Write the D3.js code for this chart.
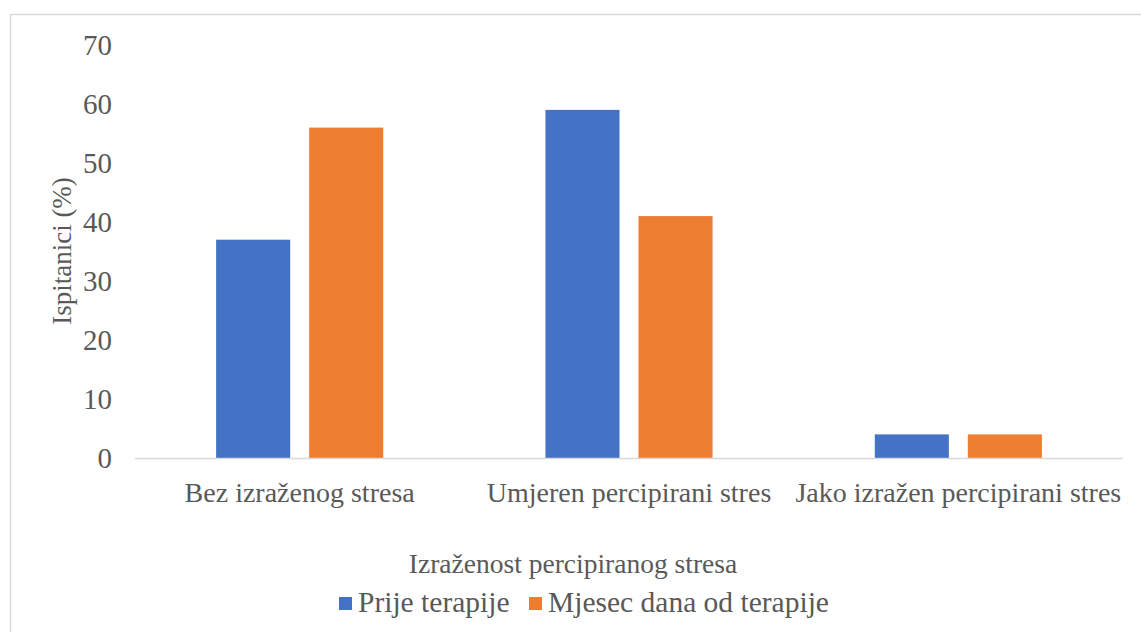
<!DOCTYPE html>
<html>
<head>
<meta charset="utf-8">
<script src="https://cdn.jsdelivr.net/npm/d3@7"></script>
<style>
  body { margin: 0; background: #fff; }
</style>
</head>
<body>
<svg id="chart" width="1141" height="632"></svg>
<script>
// data
var categories = ["Bez izraženog stresa", "Umjeren percipirani stres", "Jako izražen percipirani stres"];
var seriesNames = ["Prije terapije", "Mjesec dana od terapije"];
var prije = [37, 59, 4];
var mjesec = [56, 41, 4];
var yTicks = [0, 10, 20, 30, 40, 50, 60, 70];
var colors = ["#4472C4", "#ED7D31"];

var FONT = "'Liberation Serif', 'DejaVu Serif', serif";
var TXT = "#595959";

var svg = d3.select("#chart");

// outer chart border
svg.append("rect")
  .attr("x", 10.5).attr("y", 14.5)
  .attr("width", 1200).attr("height", 700)
  .attr("fill", "none")
  .attr("stroke", "#d9d9d9")
  .attr("stroke-width", 1.5);

var plotL = 135, plotR = 1123, plotT = 45, plotB = 458;

var x = d3.scaleBand().domain(categories).range([plotL, plotR]).paddingInner(0).paddingOuter(0);
var x1 = d3.scaleBand().domain(seriesNames).range([0, x.bandwidth()]).paddingInner(0.204).paddingOuter(0.872);
var y = d3.scaleLinear().domain([0, 70]).range([plotB, plotT]);

var rows = categories.map(function(c, i) {
  return { cat: c, vals: [prije[i], mjesec[i]] };
});

var groups = svg.selectAll(".grp").data(rows).enter().append("g")
  .attr("transform", function(d) { return "translate(" + x(d.cat) + ",0)"; });

groups.selectAll("rect").data(function(d) {
  return d.vals.map(function(v, j) { return { name: seriesNames[j], v: v, j: j }; });
}).enter().append("rect")
  .attr("x", function(d) { return x1(d.name); })
  .attr("width", x1.bandwidth())
  .attr("y", function(d) { return y(d.v); })
  .attr("height", function(d) { return plotB - y(d.v); })
  .attr("fill", function(d) { return colors[d.j]; });

// baseline
svg.append("line")
  .attr("x1", plotL).attr("x2", plotR)
  .attr("y1", plotB + 0.5).attr("y2", plotB + 0.5)
  .attr("stroke", "#d9d9d9").attr("stroke-width", 1.5);

// y tick labels
var yAxis = d3.axisLeft(y).tickValues(yTicks).tickSize(0).tickPadding(0);
var ya = svg.append("g").attr("transform", "translate(112,0)").call(yAxis);
ya.select(".domain").remove();
ya.selectAll("text").style("font-family", FONT).style("font-size", "29px").style("fill", TXT);

// x category labels
var xAxis = d3.axisBottom(x).tickSize(0).tickPadding(0);
var xa = svg.append("g").attr("transform", "translate(0," + 482 + ")").call(xAxis);
xa.select(".domain").remove();
xa.selectAll("text").style("font-family", FONT).style("font-size", "28px").style("fill", TXT);

// axis titles
svg.append("text")
  .attr("transform", "translate(71,251) rotate(-90)")
  .attr("text-anchor", "middle")
  .style("font-family", FONT).style("font-size", "27px").style("fill", TXT)
  .text("Ispitanici (%)");

svg.append("text")
  .attr("x", 573).attr("y", 573)
  .attr("text-anchor", "middle")
  .style("font-family", FONT).style("font-size", "27.5px").style("fill", TXT)
  .text("Izraženost percipiranog stresa");

// legend
var legX = [339, 529];
var leg = svg.selectAll(".leg").data(seriesNames).enter().append("g")
  .attr("transform", function(d, i) { return "translate(" + legX[i] + ",0)"; });
leg.append("rect")
  .attr("x", 0).attr("y", 597).attr("width", 13).attr("height", 13)
  .attr("fill", function(d, i) { return colors[i]; });
leg.append("text")
  .attr("x", 19).attr("y", 612)
  .style("font-family", FONT).style("font-size", "29.5px").style("fill", TXT)
  .text(function(d) { return d; });
</script>
</body>
</html>
